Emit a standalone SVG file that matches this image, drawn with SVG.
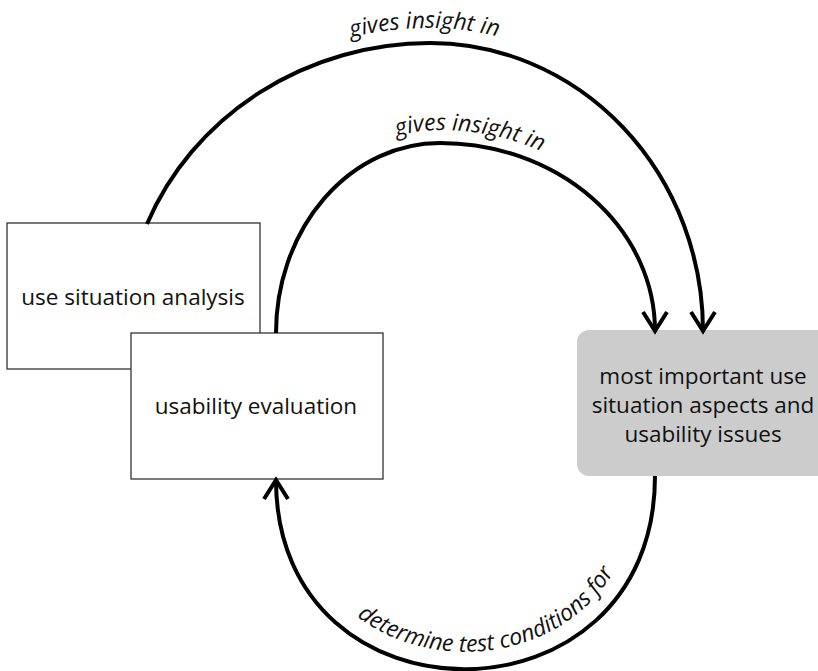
<svg xmlns="http://www.w3.org/2000/svg" width="818" height="671" viewBox="0 0 818 671">
  <style>
    .box { fill: #ffffff; stroke: #333333; stroke-width: 1.3; }
    .focus { fill: #cccccc; stroke: none; }
    .node-text { font-family: "Open Sans", "Noto Sans", sans-serif; font-size: 22.5px; fill: #111111; text-anchor: middle; }
    .link { fill: none; stroke: #000000; stroke-width: 4; }
    .label { font-family: "Open Sans", "Noto Sans", sans-serif; font-style: italic; font-size: 23px; fill: #111111; text-anchor: middle; }
  </style>
  <defs>
    <marker id="arrow" markerUnits="userSpaceOnUse" markerWidth="40" markerHeight="40" refX="0" refY="0" orient="auto" overflow="visible">
      <path d="M-19,-12 L0,0 L-19,12" fill="none" stroke="#000000" stroke-width="4" stroke-linejoin="miter"/>
    </marker>
    <!-- baselines for the curved labels, offset outward from each connector -->
    <path id="outer-guide" d="M109,333 A321 305 0 0 1 430 28 A288 305 0 0 1 718 333"/>
    <path id="inner-guide" d="M263,333 A177 203 0 0 1 440 130 A228 203 0 0 1 668 333"/>
    <path id="return-guide" d="M294,480 C294,709 637,709 637,480"/>
  </defs>

  <g id="use-situation-analysis">
    <rect class="box" x="7" y="223" width="253" height="146"/>
    <text class="node-text" x="133" y="305">use situation analysis</text>
  </g>

  <g id="usability-evaluation">
    <rect class="box" x="131" y="333" width="252" height="146"/>
    <text class="node-text" x="256" y="414">usability evaluation</text>
  </g>

  <g id="important-aspects">
    <rect class="focus" x="577" y="330" width="252" height="146" rx="12" ry="12"/>
    <text class="node-text" x="703" y="384">most important use</text>
    <text class="node-text" x="703" y="413">situation aspects and</text>
    <text class="node-text" x="703" y="442">usability issues</text>
  </g>

  <g id="connectors">
    <path class="link" d="M147,224 A306 290 0 0 1 430 43 A273 288 0 0 1 703 331" marker-end="url(#arrow)"/>
    <path class="link" d="M276,333 A164 190 0 0 1 440 143 A215 188 0 0 1 655 331" marker-end="url(#arrow)"/>
    <path class="link" d="M655,476 C655,733 276,733 276,480" marker-end="url(#arrow)"/>
    <text class="label"><textPath href="#outer-guide" startOffset="486">gives insight in</textPath></text>
    <text class="label"><textPath href="#inner-guide" startOffset="329">gives insight in</textPath></text>
    <text class="label"><textPath href="#return-guide" startOffset="55.5%">determine test conditions for</textPath></text>
  </g>
</svg>
